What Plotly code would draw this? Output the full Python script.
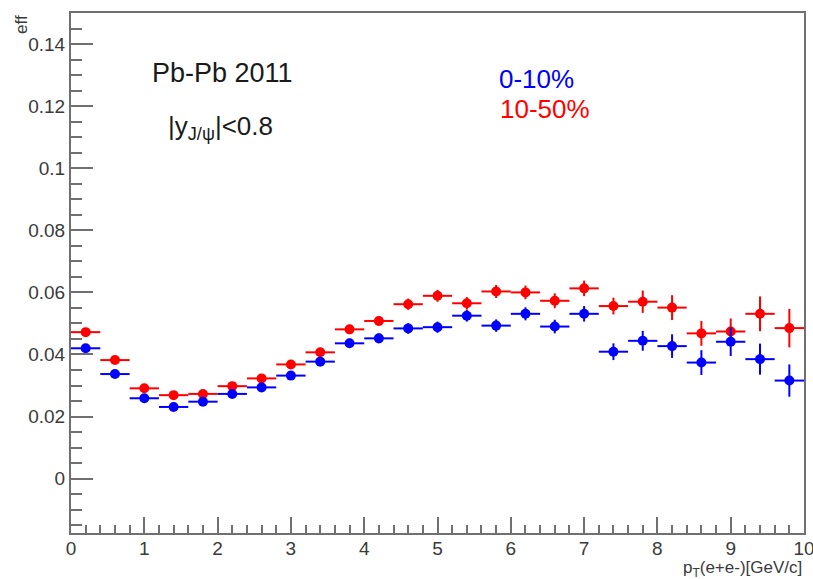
import plotly.graph_objects as go

# ---- data ----
pt_centers = [0.2, 0.6, 1.0, 1.4, 1.8, 2.2, 2.6, 3.0, 3.4, 3.8, 4.2, 4.6, 5.0,
              5.4, 5.8, 6.2, 6.6, 7.0, 7.4, 7.8, 8.2, 8.6, 9.0, 9.4, 9.8]
bin_halfwidth = [0.2] * len(pt_centers)

eff_0_10 = [0.0420, 0.0337, 0.0259, 0.0231, 0.0248, 0.0273, 0.0294, 0.0332, 0.0377,
            0.0436, 0.0452, 0.0484, 0.0488, 0.0525, 0.0493, 0.0531, 0.0490, 0.0531,
            0.0409, 0.0444, 0.0427, 0.0374, 0.0441, 0.0385, 0.0316]
err_0_10 = [0.0012, 0.0012, 0.0011, 0.0011, 0.0011, 0.0012, 0.0012, 0.0013, 0.0014,
            0.0015, 0.0016, 0.0017, 0.0018, 0.0019, 0.0020, 0.0021, 0.0022, 0.0025,
            0.0027, 0.0032, 0.0038, 0.0040, 0.0046, 0.0050, 0.0052]

eff_10_50 = [0.0472, 0.0382, 0.0291, 0.0269, 0.0273, 0.0298, 0.0323, 0.0368, 0.0407,
             0.0481, 0.0508, 0.0562, 0.0589, 0.0565, 0.0603, 0.0600, 0.0573, 0.0613,
             0.0556, 0.0570, 0.0551, 0.0468, 0.0474, 0.0531, 0.0485]
err_10_50 = [0.0012, 0.0012, 0.0011, 0.0011, 0.0011, 0.0012, 0.0012, 0.0013, 0.0014,
             0.0015, 0.0016, 0.0018, 0.0019, 0.0020, 0.0021, 0.0022, 0.0024, 0.0025,
             0.0027, 0.0036, 0.0040, 0.0040, 0.0042, 0.0056, 0.0062]

x_ticks = list(range(0, 11))

FONT = "Liberation Sans, Arial, Helvetica, sans-serif"
AXIS_COLOR = "#707070"
TEXT_COLOR = "#3a3a3a"

fig = go.Figure()

def add_series(y, err, color, name):
    fig.add_trace(go.Scatter(
        x=pt_centers, y=y, mode="markers", name=name,
        marker=dict(symbol="circle", size=10, color=color, line=dict(width=0)),
        error_x=dict(type="data", array=bin_halfwidth, visible=True,
                     color=color, thickness=2, width=0),
        error_y=dict(type="data", array=err, visible=True,
                     color=color, thickness=2, width=0),
        showlegend=False,
    ))

add_series(eff_10_50, err_10_50, "#ff0000", "10-50%")
add_series(eff_0_10, err_0_10, "#0000ff", "0-10%")

fig.update_layout(
    width=813, height=579,
    margin=dict(l=71, r=9, t=13, b=46),
    paper_bgcolor="white", plot_bgcolor="white",
    font=dict(family=FONT, color=TEXT_COLOR),
    xaxis=dict(
        range=[0, 10], tickvals=x_ticks, ticks="inside", ticklen=16,
        tickwidth=1.5, tickcolor=AXIS_COLOR,
        showline=True, linecolor=AXIS_COLOR, linewidth=2, mirror=True,
        showgrid=False, zeroline=False,
        tickfont=dict(family=FONT, size=19, color=TEXT_COLOR),
        ticklabeloverflow="allow", ticklabelstandoff=-3,
        minor=dict(dtick=0.2, tick0=0, ticks="inside", ticklen=8,
                   tickwidth=1.5, tickcolor=AXIS_COLOR, showgrid=False),
        automargin=False,
    ),
    yaxis=dict(
        range=[-0.0175, 0.150], tick0=0, dtick=0.02, ticks="inside", ticklen=22,
        tickwidth=1.5, tickcolor=AXIS_COLOR,
        showline=True, linecolor=AXIS_COLOR, linewidth=2, mirror=True,
        showgrid=False, zeroline=False,
        tickfont=dict(family=FONT, size=19, color=TEXT_COLOR),
        minor=dict(dtick=0.005, tick0=0, ticks="inside", ticklen=11,
                   tickwidth=1.5, tickcolor=AXIS_COLOR, showgrid=False),
        automargin=False,
    ),
)

annots = [
    dict(text="Pb-Pb 2011", x=2.07, y=0.1308, xref="x", yref="y",
         xanchor="center", yanchor="middle", showarrow=False,
         font=dict(family=FONT, size=27, color="#1a1a1a")),
    dict(text="|y<sub>J/ψ</sub>|<0.8", x=1.30, y=0.1130, xref="x", yref="y",
         xanchor="left", yanchor="middle", showarrow=False,
         font=dict(family=FONT, size=26, color="#1a1a1a")),
    dict(text="0-10%", x=5.81, y=0.1289, xref="x", yref="y",
         xanchor="left", yanchor="middle", showarrow=False,
         font=dict(family=FONT, size=26, color="#0000ff")),
    dict(text="10-50%", x=5.82, y=0.1190, xref="x", yref="y",
         xanchor="left", yanchor="middle", showarrow=False,
         font=dict(family=FONT, size=26, color="#ff0000")),
    dict(text="eff", x=-0.0676, y=1.0, xref="paper", yref="paper",
         xanchor="center", yanchor="top", textangle=-90, showarrow=False,
         font=dict(family=FONT, size=17, color=TEXT_COLOR)),
    dict(text="p<sub>T</sub>(e+e-)[GeV/c]", x=1.0, y=-0.069, xref="paper", yref="paper",
         xanchor="right", yanchor="middle", showarrow=False,
         font=dict(family=FONT, size=17, color=TEXT_COLOR)),
]
fig.update_layout(annotations=annots)

fig.write_html("out.html")
